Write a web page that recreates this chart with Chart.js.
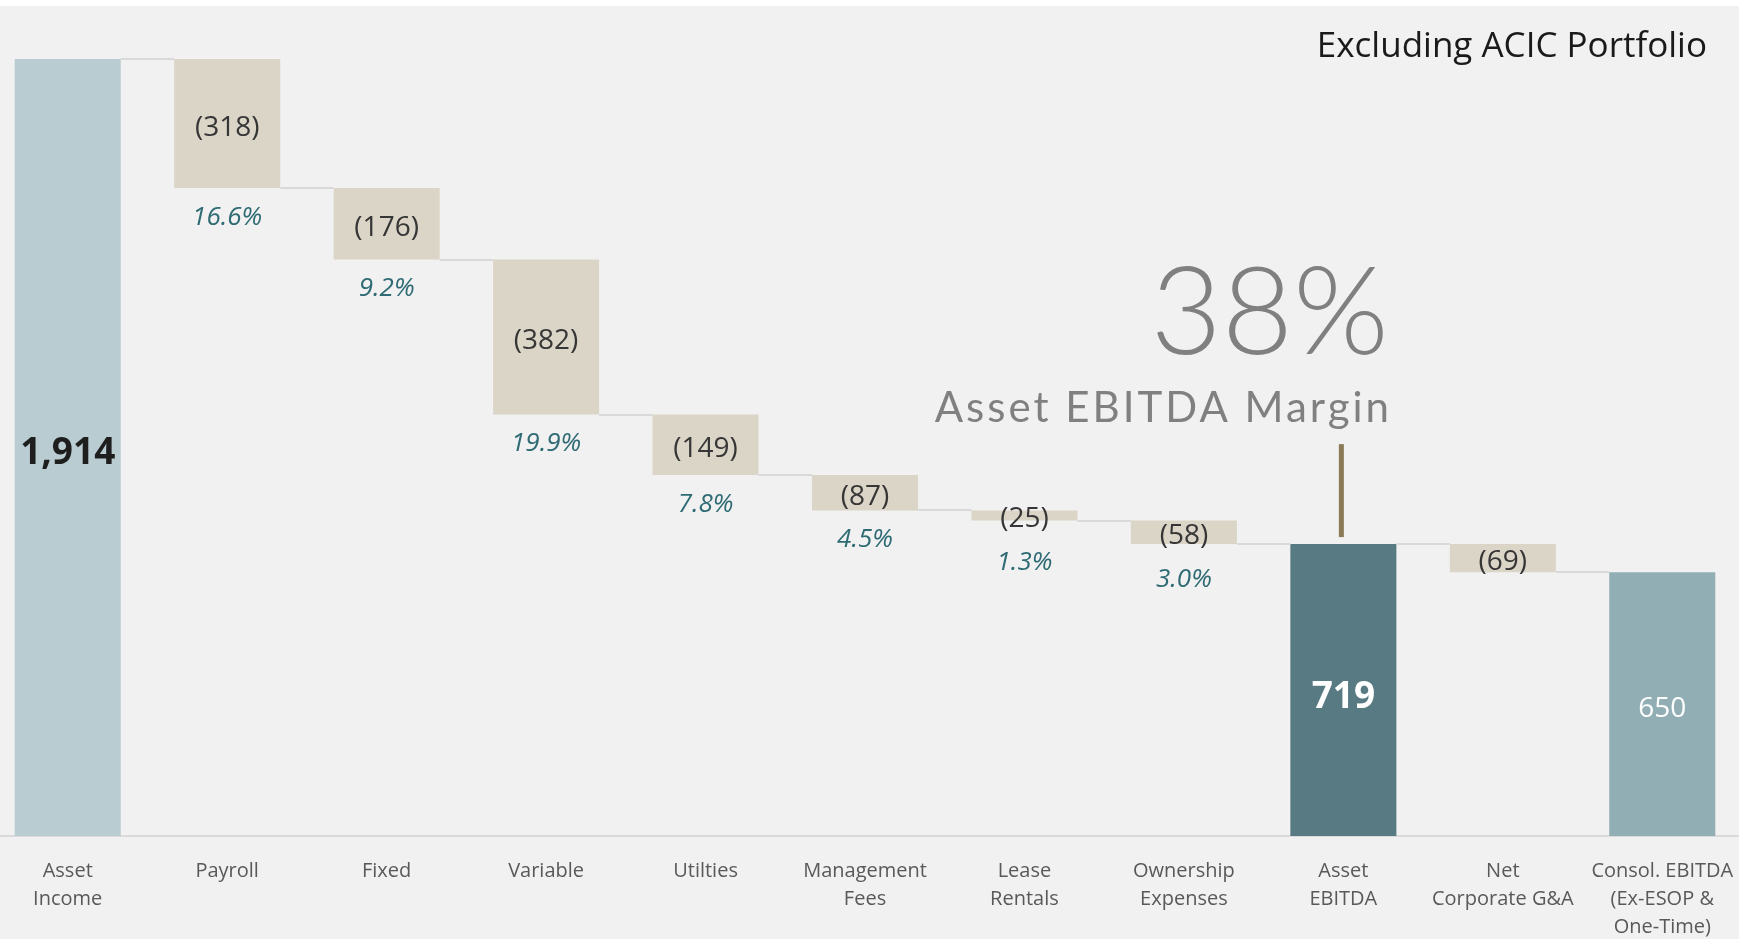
<!DOCTYPE html>
<html>
<head>
<meta charset="utf-8">
<title>Asset EBITDA Bridge</title>
<script src="https://cdn.jsdelivr.net/npm/chart.js@4.4.1/dist/chart.umd.min.js"></script>
<style>
  html, body { margin: 0; padding: 0; background: #fff; overflow: hidden; }
  #panel { position: absolute; left: 0; top: 6px; width: 1739px; height: 933px; background: #f1f1f1; }
  #wrap { position: absolute; left: -12px; top: 0; width: 1754px; height: 939px; }
</style>
</head>
<body>
<div id="panel"></div>
<div id="wrap"><canvas id="bridgeChart" width="1754" height="939"></canvas></div>
<script>
// data
const categories = [
  ["Asset", "Income"], "Payroll", "Fixed", "Variable", "Utilties",
  ["Management", "Fees"], ["Lease", "Rentals"], ["Ownership", "Expenses"],
  ["Asset", "EBITDA"], ["Net", "Corporate G&A"], ["Consol. EBITDA", "(Ex-ESOP &", "One-Time)"]
];
const values = [1914, -318, -176, -382, -149, -87, -25, -58, 719, -69, 650];
const kinds = ["start", "step", "step", "step", "step", "step", "step", "step", "subtotal", "step", "end"];
const shareOfIncome = ["", "16.6%", "9.2%", "19.9%", "7.8%", "4.5%", "1.3%", "3.0%", "", "", ""];
const noteTitle = "Excluding ACIC Portfolio";
const marginValue = "38%";
const marginLabel = "Asset EBITDA Margin";

const SHIFT = 12; // canvas sits 12px left of the page
const colors = { start: "#b9ccd2", step: "#dbd5c8", subtotal: "#577a83", end: "#91aeb5" };

// waterfall spans
let running = 0;
const spans = values.map((v, i) => {
  if (kinds[i] !== "step") { running = v; return [0, v]; }
  const s = [running + v, running];
  running += v;
  return s;
});
const levels = spans.map((s, i) => kinds[i] === "step" ? s[0] : s[1]);

const bridgeLabels = {
  id: "bridgeLabels",
  afterDatasetsDraw(chart) {
    const ctx = chart.ctx;
    const meta = chart.getDatasetMeta(0);
    const y = chart.scales.y;
    ctx.save();

    // connectors
    ctx.strokeStyle = "#d9d9d9";
    ctx.lineWidth = 2;
    for (let i = 0; i < values.length - 1; i++) {
      const a = meta.data[i], b = meta.data[i + 1];
      const yy = Math.round(y.getPixelForValue(levels[i]));
      ctx.beginPath();
      ctx.moveTo(a.x + a.width / 2, yy);
      ctx.lineTo(b.x - b.width / 2, yy);
      ctx.stroke();
    }

    ctx.textAlign = "center";
    ctx.textBaseline = "middle";
    values.forEach((v, i) => {
      const bar = meta.data[i];
      const top = y.getPixelForValue(Math.max(...spans[i]));
      const bottom = y.getPixelForValue(Math.min(...spans[i]));
      const mid = (top + bottom) / 2;
      if (kinds[i] === "step") {
        ctx.font = "28px 'Open Sans'";
        ctx.fillStyle = "#363636";
        ctx.fillText("(" + (-v) + ")", bar.x, mid + 4);
        ctx.font = "italic 26px 'Open Sans'";
        ctx.fillStyle = "#2f6b74";
        ctx.fillText(shareOfIncome[i], bar.x, Math.max(bottom + 29, mid + 47));
      } else if (kinds[i] === "start") {
        ctx.font = "bold 37px 'Open Sans'";
        ctx.fillStyle = "#1e1e1e";
        ctx.fillText(v.toLocaleString("en-US"), bar.x, mid + 6);
      } else if (kinds[i] === "subtotal") {
        ctx.font = "bold 37px 'Open Sans'";
        ctx.fillStyle = "#ffffff";
        ctx.fillText(v.toLocaleString("en-US"), bar.x, mid + 7);
        // margin marker
        ctx.strokeStyle = "#8b7a58";
        ctx.lineWidth = 5;
        ctx.beginPath();
        ctx.moveTo(bar.x - 2, top - 7);
        ctx.lineTo(bar.x - 2, top - 100);
        ctx.stroke();
      } else {
        ctx.font = "28px 'Open Sans'";
        ctx.fillStyle = "#ffffff";
        ctx.fillText(v.toLocaleString("en-US"), bar.x, mid + 5);
      }
    });

    // annotations
    ctx.textAlign = "right";
    ctx.textBaseline = "alphabetic";
    ctx.font = "35px 'Open Sans'";
    ctx.fillStyle = "#1a1a1a";
    ctx.fillText(noteTitle, 1707 + SHIFT, 57);

    ctx.font = "300 123px Lato";
    ctx.fillStyle = "#808080";
    ctx.fillText(marginValue, 1389 + SHIFT, 354);

    ctx.font = "400 42px Lato";
    ctx.letterSpacing = "3px";
    ctx.fillText(marginLabel, 1392 + SHIFT, 422);
    ctx.restore();
  }
};

new Chart(document.getElementById("bridgeChart"), {
  type: "bar",
  data: {
    labels: categories,
    datasets: [{
      data: spans,
      backgroundColor: categories.map((c, i) => colors[kinds[i]]),
      borderWidth: 0,
      categoryPercentage: 1,
      barPercentage: 0.665
    }]
  },
  options: {
    responsive: false,
    animation: false,
    layout: { padding: { top: 59, left: 0, right: 0, bottom: 0 } },
    plugins: { legend: { display: false }, tooltip: { enabled: false } },
    scales: {
      x: {
        grid: { display: false, drawTicks: false },
        border: { display: true, color: "#dadada", width: 2 },
        ticks: {
          padding: 21,
          color: "#595959",
          font: { family: "'Open Sans'", size: 20, lineHeight: 1.4 },
          maxRotation: 0,
          autoSkip: false
        },
        afterFit(scale) {
          scale.height = 103;
          scale.paddingLeft = 0;
          scale.paddingRight = 0;
        }
      },
      y: {
        display: false,
        min: 0,
        max: Math.max(...spans.flat())
      }
    }
  },
  plugins: [bridgeLabels]
});
</script>
</body>
</html>
